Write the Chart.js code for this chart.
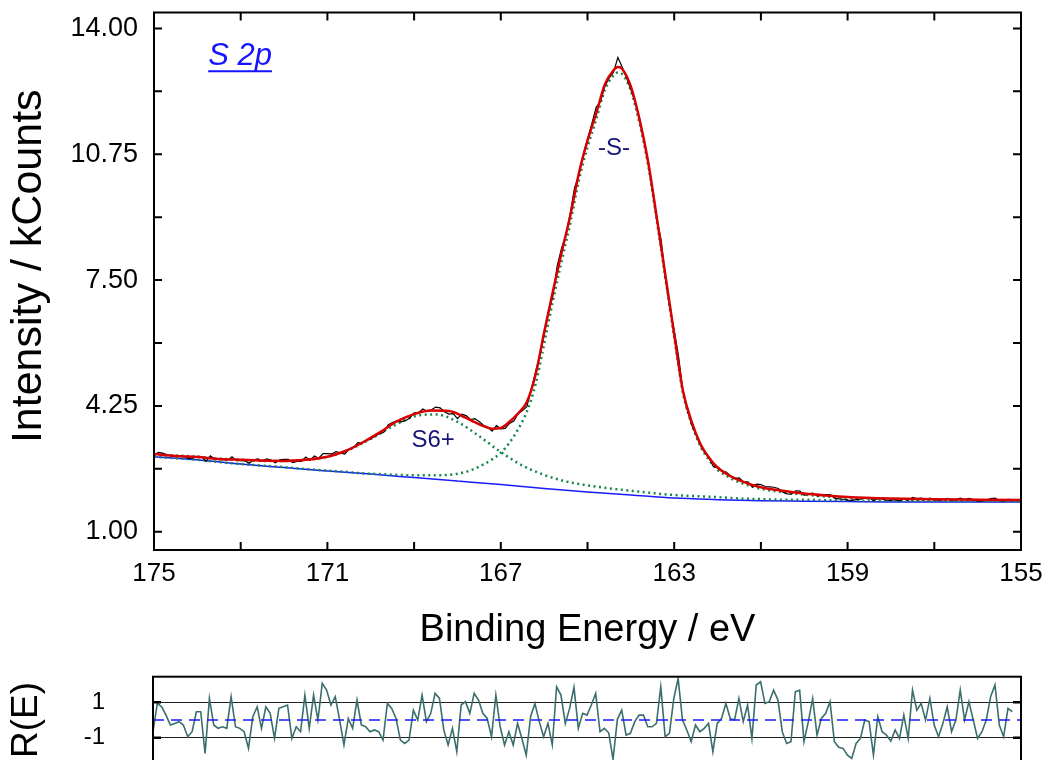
<!DOCTYPE html>
<html><head><meta charset="utf-8">
<script src="https://cdn.jsdelivr.net/npm/chart.js@4.4.1/dist/chart.umd.min.js"></script>
<style>
html,body{margin:0;padding:0;background:#fff;overflow:hidden;width:1053px;height:760px;position:relative;}
#main{position:absolute;left:0;top:0;}
#resid{position:absolute;left:0;top:660px;}
</style></head><body>
<canvas id="main" width="1053" height="660"></canvas>
<canvas id="resid" width="1053" height="110"></canvas>
<script>
// ---------------- DATA ----------------
// Raw spectrum (kCounts), 175.0 -> 155.2 eV, 0.1 eV steps
const rawStartEV = 175.0;
const rawStepEV = 0.1;
const rawCounts = [
2.98,3.05,3.03,2.99,2.96,2.95,2.95,2.94,2.89,2.91,
2.95,2.94,2.82,2.96,2.88,2.86,2.86,2.85,2.94,2.84,
2.84,2.83,2.77,2.86,2.88,2.82,2.88,2.85,2.78,2.86,
2.87,2.87,2.79,2.82,2.82,2.93,2.85,2.96,2.90,3.02,
3.02,3.01,3.07,3.04,3.01,3.13,3.17,3.30,3.29,3.35,
3.40,3.47,3.53,3.57,3.76,3.82,3.86,3.84,3.87,3.94,
4.07,4.07,4.17,4.11,4.15,4.22,4.20,4.10,4.04,4.05,
3.92,4.04,4.00,3.90,3.92,3.85,3.75,3.70,3.60,3.74,
3.66,3.67,3.80,3.86,4.05,4.13,4.23,4.66,5.12,5.54,
6.08,6.66,7.08,7.86,8.32,8.66,9.21,9.88,10.20,10.74,
11.13,11.54,11.96,12.11,12.50,12.72,12.86,13.25,13.00,12.72,
12.42,12.09,11.68,11.15,10.51,9.81,9.08,8.53,7.52,6.79,
6.20,5.54,4.65,4.16,3.77,3.51,3.24,3.05,2.91,2.69,
2.65,2.57,2.54,2.44,2.38,2.39,2.29,2.29,2.16,2.23,
2.22,2.17,2.16,2.15,2.12,2.03,1.98,1.97,2.06,2.05,
1.94,1.98,2.00,1.92,1.95,1.96,1.96,1.87,1.85,1.84,
1.82,1.81,1.83,1.84,1.88,1.88,1.80,1.87,1.84,1.82,
1.81,1.83,1.80,1.86,1.81,1.89,1.86,1.87,1.84,1.87,
1.83,1.81,1.83,1.86,1.81,1.83,1.87,1.83,1.86,1.83,
1.79,1.80,1.82,1.86,1.87,1.81,1.79,1.84,1.83
];
// Normalised residuals R(E), same energy grid as raw spectrum
const residuals = [
-0.66,0.94,0.75,0.28,-0.28,-0.19,-0.09,-0.28,-0.94,-0.66,
0.47,0.47,-1.88,1.22,-0.28,-0.47,-0.38,-0.47,1.32,-0.38,
-0.47,-0.66,-1.60,0.19,0.75,-0.47,0.75,0.38,-1.04,0.66,
0.75,0.85,-1.04,-0.38,-0.66,1.41,-0.47,1.41,0.00,2.07,
1.69,0.85,1.32,0.00,-1.41,0.09,-0.47,1.13,-0.28,-0.38,
-0.66,-0.56,-0.66,-1.13,0.94,0.66,0.09,-1.13,-1.32,-1.13,
0.56,0.00,1.41,-0.09,0.38,1.51,1.22,-0.56,-1.41,-0.47,
-1.79,0.85,1.04,0.38,1.51,1.13,0.38,0.09,-0.94,1.41,
-0.38,-1.41,-0.66,-1.41,-0.19,-1.04,-1.98,0.19,0.94,-0.09,
-0.94,-0.19,-1.41,1.88,1.41,-0.19,0.66,1.85,-0.47,0.38,
0.28,0.85,1.51,-0.66,-0.47,-0.72,-2.22,0.04,0.56,-0.85,
-0.75,-0.09,0.28,0.28,-0.38,-0.38,-0.19,1.88,-0.94,-0.75,
1.22,2.35,0.00,-0.56,-1.22,-0.28,-0.66,-0.47,-0.19,-1.79,
-0.19,0.09,0.94,0.09,0.00,1.22,-0.09,0.85,-1.04,1.98,
2.17,0.94,1.04,1.69,1.13,-0.66,-1.32,-1.22,1.60,1.69,
-1.22,-0.09,1.22,-0.85,0.09,0.38,1.04,-1.22,-1.54,-1.60,
-1.98,-2.17,-1.32,-1.04,0.00,-0.09,-1.98,0.19,-0.66,-0.85,
-1.19,-0.56,-1.04,0.28,-1.04,1.69,0.56,0.94,0.00,1.22,
-0.28,-0.94,-0.19,0.75,-0.66,0.00,1.69,0.00,1.04,0.00,
-1.04,-0.66,0.00,1.32,1.98,-0.28,-0.94,0.66,0.47
];
// Fit grid (eV) for envelope and -S- component
const fitEnergy = [175,174.5,174,173.5,173,172.5,172,171.5,171,170.6,170.2,169.8,169.4,169,168.6,168.2,167.8,
167.6,167.4,167.2,167,166.8,166.6,166.4,166.2,166,165.8,165.6,165.4,165.2,165,164.8,164.6,164.4,164.3,164.2,164,
163.8,163.6,163.4,163.2,163,162.8,162.6,162.4,162.2,162,161.8,161.6,161.4,161.2,161,160.5,160,159.5,159,158,157,156,155];
const envelopeFit = [3.01,2.96,2.93,2.88,2.86,2.84,2.83,2.86,2.94,3.08,3.30,3.56,3.85,4.04,4.13,4.12,3.94,
3.83,3.73,3.66,3.68,3.84,4.06,4.35,5.05,6.15,7.20,8.20,9.15,10.25,11.10,11.80,12.55,12.92,13.00,12.95,12.50,
11.65,10.55,9.10,7.60,6.10,4.65,3.85,3.28,2.92,2.66,2.50,2.38,2.29,2.21,2.15,2.06,1.99,1.94,1.90,1.86,1.84,1.83,1.82];
const sulfideFit = [2.94,2.90,2.86,2.80,2.75,2.71,2.67,2.62,2.58,2.55,2.51,2.49,2.47,2.46,2.46,2.47,2.55,
2.63,2.74,2.87,3.04,3.30,3.65,4.10,4.80,5.85,6.95,7.98,8.95,10.07,10.93,11.65,12.41,12.78,12.86,12.82,12.39,
11.55,10.46,9.02,7.53,6.03,4.59,3.79,3.22,2.86,2.60,2.45,2.33,2.24,2.17,2.11,2.02,1.96,1.91,1.88,1.84,1.82,1.81,1.80];
// S6+ component (eV grid 0.5)
const sulfateEnergy = [175,174.5,174,173.5,173,172.5,172,171.5,171,170.5,170,169.5,169,168.5,168,167.5,167,166.5,166,165.5,165,
164.5,164,163.5,163,162.5,162,161.5,161,160.5,160,159.5,159,158.5,158,157.5,157,156.5,156,155.5,155];
const sulfateFit = [3.00,2.97,2.94,2.89,2.86,2.83,2.83,2.86,2.94,3.12,3.40,3.72,3.98,4.03,3.84,3.47,3.06,2.71,2.47,2.30,2.20,
2.12,2.06,2.00,1.95,1.92,1.895,1.86,1.845,1.83,1.83,1.815,1.815,1.80,1.80,1.795,1.795,1.79,1.79,1.79,1.79];
// Shirley-type background
const bgEnergy = [175,174,173,172,171,170,169,168,167,166,165,164,163,162,161,160,159,158,157,156,155];
const bgValues = [2.94,2.86,2.75,2.66,2.57,2.49,2.40,2.31,2.22,2.12,2.03,1.95,1.87,1.83,1.80,1.79,1.78,1.77,1.77,1.77,1.77];
// Axis ticks
const xTickValues = [175,173,171,169,167,165,163,161,159,157,155];
const xTickLabels = [175,171,167,163,159,155];
const yTickValues = [1,2.625,4.25,5.875,7.5,9.125,10.75,12.375,14];
const yTickLabels = [1,4.25,7.5,10.75,14];
const residTickValues = [-1,1];

// ---------------- HELPERS ----------------
const FONT = "'Liberation Sans', Arial, Helvetica, sans-serif";
Chart.defaults.font.family = FONT;
Chart.defaults.color = '#000';
const rawEnergy = rawCounts.map((_, i) => +(rawStartEV - rawStepEV * i).toFixed(1));
const pts = (xs, ys) => xs.map((x, i) => ({x, y: ys[i]}));
const near = (arr, v) => arr.some(a => Math.abs(a - v) < 1e-6);
const noPad = s => { s.paddingTop = 0; s.paddingBottom = 0; };

const framePlugin = {
  id: 'frame',
  afterDatasetsDraw(chart, args, opts) {
    const {ctx, chartArea: a, scales} = chart;
    ctx.save();
    ctx.strokeStyle = '#000';
    ctx.lineWidth = 2;
    ctx.strokeRect(a.left, a.top, a.right - a.left, a.bottom - a.top);
    const L = opts.tickLen;
    ctx.lineWidth = opts.tickWidth;
    ctx.beginPath();
    if (opts.xTicks) {
      scales.x.ticks.forEach(t => {
        const px = scales.x.getPixelForValue(t.value);
        ctx.moveTo(px, a.bottom); ctx.lineTo(px, a.bottom - L);
        ctx.moveTo(px, a.top); ctx.lineTo(px, a.top + L);
      });
    }
    scales.y.ticks.forEach(t => {
      const py = scales.y.getPixelForValue(t.value);
      ctx.moveTo(a.left, py); ctx.lineTo(a.left + L, py);
      ctx.moveTo(a.right, py); ctx.lineTo(a.right - L, py);
    });
    ctx.stroke();
    // rotated side title
    if (opts.sideTitle) {
      const t = opts.sideTitle;
      ctx.font = t.font;
      ctx.fillStyle = '#000';
      ctx.textAlign = 'center';
      ctx.textBaseline = 'middle';
      ctx.translate(t.x, (a.top + a.bottom) / 2 + t.dy);
      ctx.rotate(-Math.PI / 2);
      ctx.fillText(t.text, 0, 0);
    }
    ctx.restore();
  }
};

const notesPlugin = {
  id: 'notes',
  afterDatasetsDraw(chart, args, opts) {
    const {ctx, scales} = chart;
    (opts.items || []).forEach(n => {
      ctx.save();
      ctx.font = n.font;
      ctx.fillStyle = n.color;
      ctx.textAlign = n.align;
      ctx.textBaseline = n.baseline;
      const px = scales.x.getPixelForValue(n.x);
      const py = scales.y.getPixelForValue(n.y);
      ctx.fillText(n.text, px, py);
      if (n.underline) {
        const w = ctx.measureText(n.text).width;
        ctx.strokeStyle = n.color;
        ctx.lineWidth = 2;
        ctx.beginPath();
        ctx.moveTo(px, py + 6); ctx.lineTo(px + w, py + 6);
        ctx.stroke();
      }
      ctx.restore();
    });
  }
};

// ---------------- MAIN CHART ----------------
new Chart(document.getElementById('main'), {
  type: 'line',
  data: {
    datasets: [
      {label: 'Envelope', data: pts(fitEnergy, envelopeFit), borderColor: '#d80000', borderWidth: 2.5,
       pointRadius: 0, cubicInterpolationMode: 'monotone', fill: false},
      {label: 'Raw', data: pts(rawEnergy, rawCounts), borderColor: '#000000', borderWidth: 1.2,
       pointRadius: 0, tension: 0, fill: false},
      {label: '-S-', data: pts(fitEnergy, sulfideFit), borderColor: '#13884a', borderWidth: 2.5,
       borderDash: [2, 3.5], pointRadius: 0, cubicInterpolationMode: 'monotone', fill: false},
      {label: 'S6+', data: pts(sulfateEnergy, sulfateFit), borderColor: '#13884a', borderWidth: 2.5,
       borderDash: [2, 3.5], pointRadius: 0, cubicInterpolationMode: 'monotone', fill: false},
      {label: 'Background', data: pts(bgEnergy, bgValues), borderColor: '#1a1aff', borderWidth: 1.5,
       pointRadius: 0, cubicInterpolationMode: 'monotone', fill: false}
    ]
  },
  options: {
    responsive: false, animation: false, events: [],
    layout: {padding: {top: 12.5, right: 32, left: 0, bottom: 0}},
    plugins: {
      legend: {display: false}, tooltip: {enabled: false},
      frame: {tickLen: 8, tickWidth: 2, xTicks: true,
              sideTitle: {text: 'Intensity / kCounts', font: '43px ' + FONT, x: 29, dy: -15}},
      notes: {items: [
        {text: 'S 2p', x: 173.75, y: 13.05, font: 'italic 31px ' + FONT, color: '#1414ff', align: 'left', baseline: 'alphabetic', underline: true},
        {text: '-S-', x: 164.39, y: 10.90, font: '24px ' + FONT, color: '#15157a', align: 'center', baseline: 'middle'},
        {text: 'S6+', x: 168.56, y: 3.37, font: '24px ' + FONT, color: '#15157a', align: 'center', baseline: 'middle'}
      ]}
    },
    scales: {
      x: {
        type: 'linear', reverse: true, min: 155, max: 175,
        grid: {display: false, drawTicks: false}, border: {display: false},
        afterBuildTicks: s => { s.ticks = xTickValues.map(v => ({value: v})); },
        ticks: {autoSkip: false, maxRotation: 0, padding: 8, font: {size: 26}, color: '#000',
                callback: v => near(xTickLabels, v) ? String(v) : ''},
        title: {display: true, text: 'Binding Energy / eV', font: {size: 38}, color: '#000', padding: {top: 0, bottom: 7}},
        afterFit: s => { s.height = 110; s.paddingLeft = 0; s.paddingRight = 0; }
      },
      y: {
        type: 'linear', min: 0.53, max: 14.41,
        grid: {display: false, drawTicks: false}, border: {display: false},
        afterBuildTicks: s => { s.ticks = yTickValues.map(v => ({value: v})); },
        ticks: {autoSkip: false, padding: 16, font: {size: 27}, color: '#000',
                callback: v => near(yTickLabels, v) ? v.toFixed(2) : ''},
        title: {display: false},
        afterFit: s => { s.width = 154; noPad(s); }
      }
    }
  },
  plugins: [framePlugin, notesPlugin]
});

// ---------------- RESIDUAL CHART ----------------
new Chart(document.getElementById('resid'), {
  type: 'line',
  data: {
    datasets: [
      {label: 'zero', data: [{x: 175, y: 0}, {x: 155, y: 0}], borderColor: '#1a1aff', borderWidth: 1.6,
       borderDash: [11, 7], pointRadius: 0, fill: false},
      {label: 'R(E)', data: pts(rawEnergy, residuals), borderColor: '#3a6e6c', borderWidth: 1.6,
       pointRadius: 0, tension: 0, fill: false}
    ]
  },
  options: {
    responsive: false, animation: false, events: [],
    layout: {padding: {top: 16.7, right: 32, left: 0, bottom: 6.6}},
    plugins: {legend: {display: false}, tooltip: {enabled: false},
              frame: {tickLen: 8, tickWidth: 2.5, xTicks: false}, notes: {items: []}},
    scales: {
      x: {type: 'linear', reverse: true, min: 155, max: 175, display: false},
      y: {
        type: 'linear', min: -2.45, max: 2.45,
        grid: {display: true, color: '#222', lineWidth: 1, drawTicks: false}, border: {display: false},
        afterBuildTicks: s => { s.ticks = residTickValues.map(v => ({value: v})); },
        ticks: {autoSkip: false, padding: 48, font: {size: 24}, color: '#000', callback: v => String(v)},
        title: {display: true, text: 'R(E)', font: {size: 37}, color: '#000', padding: {top: 5, bottom: 0}},
        afterFit: s => { s.width = 153; noPad(s); }
      }
    }
  },
  plugins: [framePlugin, notesPlugin]
});
</script>
</body></html>
